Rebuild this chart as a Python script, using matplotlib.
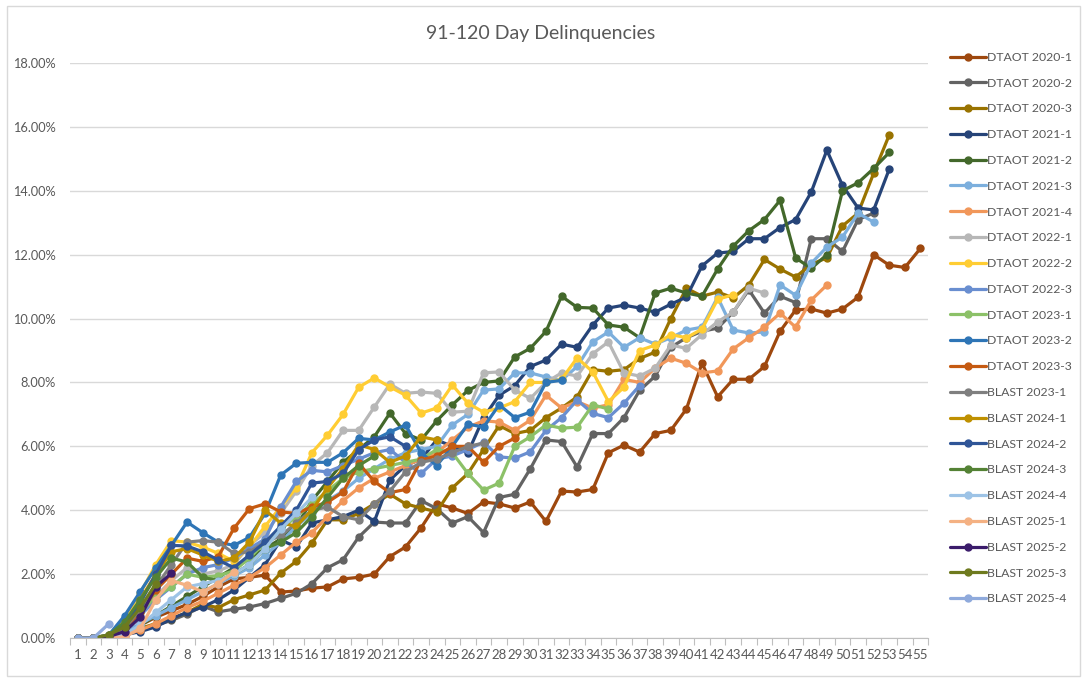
import numpy as np
import matplotlib
matplotlib.use('Agg')
import matplotlib.pyplot as plt
from matplotlib.ticker import FuncFormatter, FixedLocator
from matplotlib.patches import Rectangle

plt.rcParams['font.family'] = ['Lato', 'DejaVu Sans']

title = '91-120 Day Delinquencies'

names = ['DTAOT 2020-1', 'DTAOT 2020-2', 'DTAOT 2020-3', 'DTAOT 2021-1', 'DTAOT 2021-2',
         'DTAOT 2021-3', 'DTAOT 2021-4', 'DTAOT 2022-1', 'DTAOT 2022-2', 'DTAOT 2022-3',
         'DTAOT 2023-1', 'DTAOT 2023-2', 'DTAOT 2023-3', 'BLAST 2023-1', 'BLAST 2024-1',
         'BLAST 2024-2', 'BLAST 2024-3', 'BLAST 2024-4', 'BLAST 2025-1', 'BLAST 2025-2',
         'BLAST 2025-3', 'BLAST 2025-4']

colors = ['#9E480E', '#636363', '#997300', '#264478', '#43682B',
          '#7CAFDD', '#F1975A', '#B7B7B7', '#FFCD33', '#698ED0',
          '#8CC168', '#2E75B6', '#C55A11', '#7F7F7F', '#BF9000',
          '#2F5597', '#548235', '#9DC3E6', '#F4B183', '#3B1C6B',
          '#6E7A1E', '#8FAADC']

# values in percent, month 1 onward
dtaot_2020_1 = [0, 0, 0.05, 0.2, 0.4, 0.65, 0.85, 1.05, 1.3, 1.6,
                1.85, 1.9, 1.97, 1.44, 1.47, 1.56, 1.6, 1.85, 1.9, 2.0,
                2.55, 2.85, 3.45, 4.2, 4.07, 3.9, 4.26, 4.2, 4.07, 4.26,
                3.65, 4.6, 4.57, 4.65, 5.8, 6.04, 5.82, 6.4, 6.5, 7.17,
                8.6, 7.55, 8.1, 8.1, 8.5, 9.6, 10.27, 10.3, 10.17, 10.3,
                10.67, 12.0, 11.67, 11.6, 12.2]
dtaot_2020_2 = [0, 0, 0.02, 0.1, 0.25, 0.4, 0.55, 0.75, 1.0, 0.82,
                0.9, 0.97, 1.08, 1.24, 1.4, 1.7, 2.2, 2.45, 3.16, 3.63,
                3.6, 3.6, 4.3, 4.05, 3.6, 3.8, 3.3, 4.4, 4.5, 5.3,
                6.2, 6.15, 5.35, 6.4, 6.4, 6.9, 7.75, 8.2, 9.1, 9.4,
                9.6, 9.7, 10.2, 10.9, 10.17, 10.7, 10.5, 12.5, 12.5, 12.1,
                13.1, 13.3]
dtaot_2020_3 = [0, 0, 0.05, 0.15, 0.3, 0.45, 0.6, 0.8, 1.05, 0.95,
                1.2, 1.35, 1.5, 2.03, 2.4, 2.97, 3.7, 3.7, 3.9, 4.2,
                4.5, 4.2, 4.07, 3.95, 4.7, 5.15, 5.9, 6.65, 6.4, 6.5,
                6.9, 7.2, 7.55, 8.4, 8.35, 8.4, 8.75, 8.95, 10.0, 10.95,
                10.7, 10.83, 10.65, 11.05, 11.85, 11.55, 11.3, 11.7, 11.9, 12.9,
                13.3, 14.55, 15.75]
dtaot_2021_1 = [0, 0, 0.03, 0.1, 0.2, 0.35, 0.6, 0.8, 0.97, 1.2,
                1.5, 1.9, 2.3, 3.07, 2.85, 3.6, 3.7, 3.8, 4.0, 3.65,
                4.95, 5.4, 5.6, 6.2, 6.0, 5.8, 6.9, 7.6, 7.9, 8.5,
                8.7, 9.2, 9.1, 9.8, 10.33, 10.42, 10.33, 10.2, 10.45, 10.67,
                11.65, 12.05, 12.1, 12.5, 12.5, 12.85, 13.1, 13.96, 15.27, 14.17,
                13.46, 13.4, 14.68]
dtaot_2021_2 = [0, 0, 0.05, 0.2, 0.4, 0.7, 1.0, 1.3, 1.6, 1.9,
                2.2, 2.5, 2.8, 3.1, 3.5, 4.3, 4.9, 5.5, 5.9, 6.3,
                7.04, 6.4, 6.2, 6.8, 7.3, 7.75, 8.0, 8.05, 8.8, 9.07,
                9.6, 10.7, 10.35, 10.33, 9.8, 9.73, 9.4, 10.8, 10.95, 10.8,
                10.7, 11.55, 12.27, 12.75, 13.1, 13.7, 11.9, 11.57, 12.0, 14.0,
                14.25, 14.7, 15.2]
dtaot_2021_3 = [0, 0, 0.05, 0.2, 0.45, 0.7, 0.95, 1.2, 1.45, 1.7,
                1.95, 2.2, 2.6, 3.0, 3.5, 3.9, 4.3, 4.6, 5.0, 5.3,
                5.6, 5.8, 5.9, 6.0, 6.67, 7.0, 7.76, 7.8, 8.3, 8.3,
                8.17, 8.07, 8.5, 9.27, 9.58, 9.1, 9.4, 9.2, 9.4, 9.64,
                9.73, 10.67, 9.64, 9.55, 9.58, 11.05, 10.73, 11.73, 12.24, 12.55,
                13.3, 13.02]
dtaot_2021_4 = [0, 0, 0.03, 0.1, 0.25, 0.45, 0.7, 0.95, 1.15, 1.4,
                1.65, 1.9, 2.2, 2.6, 3.0, 3.3, 3.8, 4.3, 4.7, 5.0,
                5.2, 5.4, 5.6, 5.8, 6.2, 6.6, 6.8, 6.76, 6.5, 6.82,
                7.6, 7.2, 7.4, 7.2, 7.3, 8.1, 8.0, 8.45, 8.76, 8.6,
                8.3, 8.36, 9.05, 9.4, 9.73, 10.17, 9.73, 10.58, 11.05]
dtaot_2022_1 = [0, 0, 0.05, 0.3, 0.8, 1.3, 1.8, 2.2, 2.0, 2.1,
                2.3, 2.9, 3.3, 3.9, 4.6, 5.4, 5.8, 6.5, 6.5, 7.23,
                7.95, 7.66, 7.7, 7.66, 7.07, 7.1, 8.3, 8.33, 7.76, 7.5,
                8.0, 8.3, 8.2, 8.9, 9.27, 8.3, 8.2, 8.45, 9.17, 9.07,
                9.5, 9.9, 10.2, 10.95, 10.8]
dtaot_2022_2 = [0, 0, 0.1, 0.6, 1.4, 2.3, 3.05, 3.0, 2.85, 2.65,
                2.4, 2.85, 3.5, 4.1, 4.7, 5.8, 6.35, 7.0, 7.85, 8.14,
                7.86, 7.6, 7.04, 7.2, 7.92, 7.35, 7.07, 7.2, 7.4, 8.0,
                8.0, 8.1, 8.77, 8.33, 7.4, 7.85, 9.0, 9.17, 9.5, 9.4,
                9.67, 10.6, 10.75]
dtaot_2022_3 = [0, 0, 0.05, 0.3, 0.7, 1.2, 1.6, 2.0, 2.2, 2.3,
                2.5, 2.8, 3.1, 4.1, 4.9, 5.25, 5.2, 5.4, 5.6, 5.8,
                5.9, 5.5, 5.15, 5.6, 5.7, 5.9, 6.13, 5.67, 5.63, 5.83,
                6.5, 6.9, 7.45, 7.03, 6.9, 7.35, 7.9]
dtaot_2023_1 = [0, 0, 0.05, 0.3, 0.8, 1.3, 1.6, 2.0, 1.9, 1.95,
                2.1, 2.5, 3.0, 3.4, 3.8, 4.2, 4.6, 5.0, 5.2, 5.3,
                5.4, 5.5, 5.6, 5.9, 5.8, 5.15, 4.63, 4.85, 6.0, 6.3,
                6.67, 6.57, 6.6, 7.3, 7.17]
dtaot_2023_2 = [0, 0, 0.1, 0.7, 1.45, 2.2, 2.9, 3.63, 3.3, 3.0,
                2.9, 3.15, 3.9, 5.1, 5.47, 5.5, 5.5, 5.8, 6.25, 6.2,
                6.45, 6.67, 5.8, 5.4, 6.0, 6.7, 6.6, 7.3, 6.9, 7.07,
                8.0, 8.07]
dtaot_2023_3 = [0, 0, 0.05, 0.3, 0.8, 1.5, 2.0, 2.5, 2.4, 2.55,
                3.43, 4.05, 4.2, 3.95, 3.9, 4.1, 4.25, 4.57, 5.47, 4.9,
                4.55, 4.65, 5.57, 5.7, 6.0, 6.0, 5.5, 6.0, 6.26]
blast_2023_1 = [0, 0, 0.05, 0.3, 0.9, 1.6, 2.3, 3.0, 3.05, 3.0,
                2.65, 2.7, 3.0, 3.2, 3.6, 4.0, 4.1, 3.8, 3.7, 4.2,
                4.6, 5.2, 5.5, 5.6, 5.8, 6.0, 6.1]
blast_2024_1 = [0, 0, 0.05, 0.4, 1.2, 2.0, 2.7, 2.8, 2.6, 2.4,
                2.5, 3.0, 4.0, 3.6, 3.5, 4.0, 4.7, 5.3, 6.05, 5.9,
                5.5, 5.7, 6.3, 6.2]
blast_2024_2 = [0, 0, 0.05, 0.4, 1.1, 2.0, 2.9, 2.88, 2.7, 2.44,
                2.2, 2.6, 3.0, 3.5, 4.0, 4.85, 4.9, 5.15, 5.9, 6.2,
                6.3, 6.0]
blast_2024_3 = [0, 0, 0.1, 0.5, 1.2, 1.9, 2.5, 2.38, 1.9, 1.8,
                2.0, 2.3, 2.8, 3.0, 3.3, 3.8, 4.4, 5.0, 5.4, 5.7]
blast_2024_4 = [0, 0, 0.02, 0.1, 0.4, 0.8, 1.2, 1.6, 1.7, 1.8,
                2.0, 2.3, 2.8, 3.4, 3.9, 4.4]
blast_2025_1 = [0, 0, 0.02, 0.03, 0.3, 1.2, 1.8, 1.65, 1.45, 1.7, 2.07]
blast_2025_2 = [0, 0, 0.05, 0.2, 0.65, 1.6, 2.03]
blast_2025_3 = [0, 0, 0.1, 0.35, 0.95, 1.7]
blast_2025_4 = [0, 0, 0.45]

series = [dtaot_2020_1, dtaot_2020_2, dtaot_2020_3, dtaot_2021_1, dtaot_2021_2,
          dtaot_2021_3, dtaot_2021_4, dtaot_2022_1, dtaot_2022_2, dtaot_2022_3,
          dtaot_2023_1, dtaot_2023_2, dtaot_2023_3, blast_2023_1, blast_2024_1,
          blast_2024_2, blast_2024_3, blast_2024_4, blast_2025_1, blast_2025_2,
          blast_2025_3, blast_2025_4]

n_months = 55
text_col = '#595959'

fig = plt.figure(figsize=(10.87, 6.82), dpi=100)
fig.patches.append(Rectangle((0.006, 0.009), 0.988, 0.982, transform=fig.transFigure,
                             fill=False, edgecolor='#D9D9D9', linewidth=1))
ax = fig.add_axes([0.0644, 0.0645, 0.7896, 0.8431])

for name, vals, col in zip(names, series, colors):
    x = np.arange(1, len(vals) + 1)
    y = np.array(vals) / 100.0
    ax.plot(x, y, color=col, lw=2.3, marker='o', markersize=5, label=name,
            solid_joinstyle='round', solid_capstyle='round')

ax.set_xlim(0.5, n_months + 0.5)
ax.set_ylim(0, 0.18)
ax.set_yticks(np.arange(0, 0.1801, 0.02))
ax.yaxis.set_major_formatter(FuncFormatter(lambda v, p: '{:.2f}%'.format(v * 100)))
ax.set_xticks(np.arange(1, n_months + 1))
ax.xaxis.set_minor_locator(FixedLocator(np.arange(0.5, n_months + 1, 1)))
ax.tick_params(axis='x', which='major', length=0, pad=8, labelsize=9.5, labelcolor=text_col)
ax.tick_params(axis='x', which='minor', length=5, color='#BFBFBF', width=0.8)
ax.tick_params(axis='y', length=0, pad=10, labelsize=9.2, labelcolor=text_col)
ax.grid(axis='y', color='#D9D9D9', lw=1)
ax.set_axisbelow(True)
for s in ['top', 'right', 'left']:
    ax.spines[s].set_visible(False)
ax.spines['bottom'].set_color('#BFBFBF')

fig.text(0.497, 0.951, title, ha='center', va='center', fontsize=14, color=text_col)

ax.legend(loc='upper left', bbox_to_anchor=(1.02, 1.028), frameon=False, fontsize=8.8,
          labelcolor=text_col, handlelength=2.9, handletextpad=0.1,
          labelspacing=1.21, borderaxespad=0)

fig.savefig('out.png', dpi=100)
